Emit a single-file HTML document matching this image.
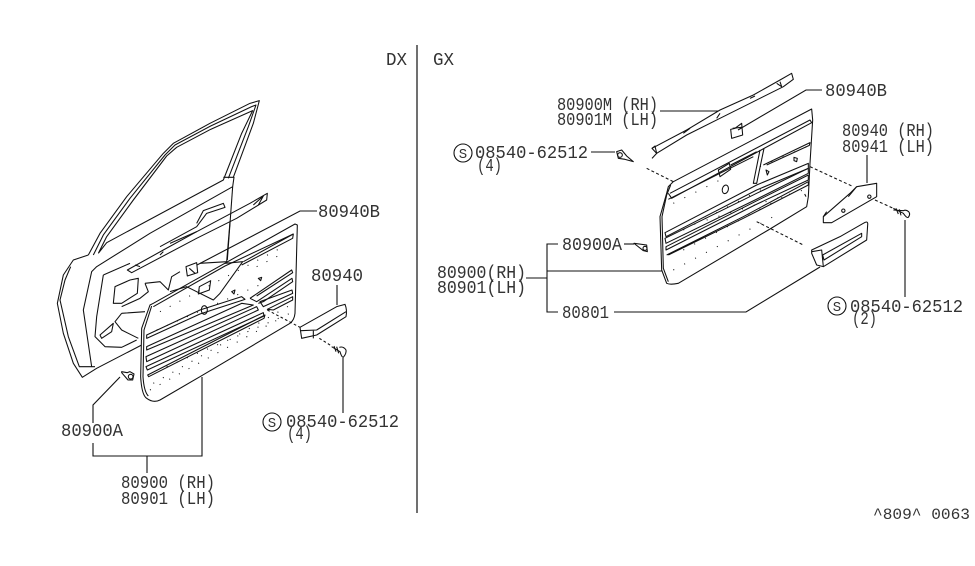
<!DOCTYPE html>
<html><head><meta charset="utf-8"><style>
html,body{margin:0;padding:0;background:#fff}
svg{display:block}
text{font-family:"Liberation Mono","DejaVu Sans Mono",monospace;font-size:18.5px;fill:#333;stroke:none}
</style></head><body>
<svg width="975" height="566" viewBox="0 0 975 566" xmlns="http://www.w3.org/2000/svg">
<rect width="975" height="566" fill="#fff"/>
<line x1="417" y1="45" x2="417" y2="513" stroke="#111" stroke-width="1.2"/>

<!-- DX door, in zoom coords -->
<g transform="translate(50 90) scale(.33333)">
<g stroke-width="3.2" fill="none" stroke="#111" stroke-linejoin="round">
<path d="M115 495L150 430L230 320L340 190L370 160L480 100L600 40L628 32L610 100L550 262"/>
<path d="M130 495L160 435L240 325L345 195L375 165L482 108L605 50L618 45L595 110L535 265"/>
<path d="M145 490L170 440L250 330L350 198L380 172L482 118L608 62L575 130L520 270L170 458L145 490"/>
<path d="M115 495L70 510L40 555L22 640L40 730L70 820L97 862L140 835L275 765"/>
<path d="M62 530L45 570L30 630L55 740L88 830L135 830"/>
<path d="M520 262L552 262L548 290L300 430L140 530L125 545L100 660L125 830"/>
<path d="M160 555L140 680L135 740L165 770L215 772L260 750"/>
<path d="M160 555L240 520"/>
<path d="M548 290L532 510"/>
<path d="M540 395L530 515L450 520"/>
<path d="M232 540L340 480L440 425L600 340L652 310L650 330L560 385L440 445L245 548Z"/>
<path d="M360 460L440 425M610 345L640 318L625 345"/>
<path d="M255 525L270 530M340 485L330 495"/>
<path d="M195 590L240 570L265 565L262 610L215 640L190 640Z"/>
<path d="M440 400L460 362L520 340L525 352L470 370L440 410L330 470"/>
<path d="M285 580L330 575L345 590L355 600L365 560L390 545M285 580L295 605L270 625L215 650"/>
<path d="M408 530L440 518L443 548L412 558Z M418 535L435 550"/>
<path d="M215 670L285 665M215 670L195 695L215 720L265 745"/>
<path d="M150 735L190 700L185 725L155 745Z"/>
</g>
<!-- panel -->
<g stroke-width="3.2" fill="none" stroke="#111" stroke-linejoin="round">
<path d="M300 645L275 715L272 860Q275 915 290 925Q310 940 330 930L450 860L720 700Q733 690 735 670L742 405L735 402L310 640Z" fill="#fff"/>
<path d="M305 648L282 720L279 860Q282 905 295 918"/>
<path d="M310 650L525 528L730 432M525 520"/>
<path d="M525 520L578 515L510 610L490 630L410 590L360 605"/>
<path d="M580 515L730 432L728 445L575 525"/>
<path d="M448 590L482 572L478 600L445 612Z"/>
<path d="M290 735L450 660L575 620L585 628L450 672L290 745Z"/>
<path d="M290 770L575 640L610 645L290 780Z"/>
<path d="M288 800L620 650L625 660L290 815Z"/>
<path d="M288 830L640 668L642 678L292 840Z"/>
<path d="M293 855L645 675L642 685L296 860Z"/>
<path d="M600 625L725 540L728 548L620 618M600 625L620 635L726 565L728 575L640 635L625 640"/>
<path d="M630 635L726 600L728 610L640 650Z"/>
<path d="M652 658L728 620L728 630L670 660Z"/>
<ellipse cx="463" cy="660" rx="9" ry="13"/>
<path d="M545 605L555 600L552 612ZM625 565L635 562L632 572Z"/>
</g>
<g stroke="#111" stroke-width="3.2" stroke-dasharray="3 30" fill="none">
<path d="M330 665L700 470"/><path d="M320 720L640 580"/><path d="M310 880L730 640"/><path d="M350 830L720 670"/><path d="M620 530L700 490"/><path d="M300 900L700 680"/>
</g>
<!-- armrest -->
<g fill="none" stroke="#111" stroke-width="3.2" stroke-linejoin="round">
<path d="M750 712L860 650L885 643Q892 660 888 680L800 735L755 745Z" fill="#fff"/>
<path d="M752 722L800 720L888 665M790 722L790 745"/>
<path d="M652 660L750 712M808 745L845 768" stroke-dasharray="8 7"/>
<path d="M845 770L870 785Q875 802 880 802Q890 790 888 780Q880 768 868 772"/>
<path d="M852 768L858 785M860 770L866 790"/>
<path d="M215 845L232 848L240 845L252 852L248 870L234 870L215 848Z"/>
<circle cx="242" cy="860" r="7"/>
</g>
</g>

<!-- DX connectors -->
<g fill="none" stroke="#111" stroke-width="1.1">
<polyline points="317,211 300,211 197,265"/>
<line x1="337" y1="285" x2="337" y2="305"/>
<line x1="343" y1="358" x2="343" y2="413"/>
<polyline points="120,377 93,405 93,423"/>
<polyline points="93,443 93,456 202,456 202,377"/>
<line x1="147" y1="456" x2="147" y2="473"/>
<circle cx="272" cy="422" r="9"/>
<circle cx="463" cy="153" r="9"/>
<circle cx="837" cy="306" r="9"/>
</g>

<!-- GX, in zoom2 coords -->
<g transform="translate(640 70) scale(.33333)" fill="none" stroke="#111" stroke-width="3.2" stroke-linejoin="round">
<path d="M36 235L140 180L240 120L340 75L420 30L455 10L460 28L430 50L340 95L240 145L140 195L50 250Z"/>
<path d="M36 235L45 228L50 250L36 265"/><path d="M410 40L425 50L420 35"/>
<path d="M130 190L150 175M240 130L230 145M330 85L345 78"/>
<path d="M85 350L100 335L515 117L518 150L510 280L505 380L500 410L385 480L115 640Q90 645 80 640L65 600L60 440L80 370Z"/>
<path d="M92 345L80 375L66 440L70 595L85 635"/>
<path d="M85 370L95 385L515 158L510 150L90 370"/>
<path d="M85 388L240 310L340 260"/>
<path d="M235 300L268 280L272 298L240 320Z"/>
<path d="M272 285L350 245"/>
<path d="M360 240L340 340L350 340L372 235"/>
<path d="M370 285L510 218L508 226L380 285"/>
<ellipse cx="256" cy="358" rx="9" ry="13" transform="rotate(15 256 358)"/>
<path d="M75 488L350 345L505 280L505 295L350 360L78 500Z"/>
<path d="M75 505L350 370L505 295L505 310L345 390L78 520Z"/>
<path d="M78 530L345 395L505 315L505 330L345 405L78 540Z"/>
<path d="M80 555L310 440L505 335L505 345L310 445L85 555"/>
<path d="M285 175L305 160L308 195L275 205L272 178Z"/>
<path d="M278 175L305 172"/>
<path d="M462 262L472 265L470 275L462 272ZM378 300L387 305L382 315ZM494 372L498 380"/>
<g stroke-dasharray="3 34"><path d="M100 400L240 330"/><path d="M100 600L400 440"/><path d="M130 540L450 370"/><path d="M360 290L500 230"/><path d="M200 450L490 360"/><path d="M130 480L380 350"/></g>
<path d="M20 295L100 335M510 290L640 350M705 390L760 415M350 455L490 525" stroke-dasharray="9 7"/>
<path d="M550 440L630 370L650 350L710 340L710 380L575 458L550 458Z"/>
<path d="M625 380L650 350M560 425L550 440"/>
<circle cx="610" cy="422" r="5"/><circle cx="688" cy="380" r="5"/>
<path d="M515 540L600 500L670 460Q685 450 683 465L680 510L550 590L530 585L515 550Z"/>
<path d="M515 545L545 540L550 590M548 555L665 490L665 500L552 570Z"/>
<path d="M760 415L790 430Q800 445 805 442Q812 432 806 425Q798 418 790 422L760 420"/>
<path d="M768 415L775 432M778 418L783 436"/>
</g>
<g transform="translate(430 80) scale(.33333)" fill="none" stroke="#111" stroke-width="3.2" stroke-linejoin="round">
<path d="M560 215L575 210L590 228L610 245L585 238L565 235Z"/>
<circle cx="570" cy="225" r="7"/>
<path d="M612 490L650 495L652 515L640 512Z"/>
<circle cx="645" cy="505" r="6"/>
</g>

<!-- GX connectors -->
<g fill="none" stroke="#111" stroke-width="1.1">
<line x1="660" y1="111" x2="718" y2="111"/>
<polyline points="822,90 806,90 738,130"/>
<line x1="591" y1="152" x2="615" y2="152"/>
<line x1="624" y1="244" x2="634" y2="244"/>
<polyline points="558,244 547,244 547,312 558,312"/>
<line x1="547" y1="271" x2="662" y2="271"/>
<line x1="526" y1="278" x2="547" y2="278"/>
<polyline points="614,312 746,312 820,267"/>
<line x1="867" y1="155" x2="867" y2="183"/>
<line x1="905" y1="220" x2="905" y2="297"/>
</g>

<!-- labels -->
<text x="272" y="427" text-anchor="middle" style="font-size:14px">S</text>
<text x="463" y="158" text-anchor="middle" style="font-size:14px">S</text>
<text x="837" y="311" text-anchor="middle" style="font-size:14px">S</text>
<text x="386" y="65" textLength="21" lengthAdjust="spacingAndGlyphs">DX</text>
<text x="433" y="65" textLength="21" lengthAdjust="spacingAndGlyphs">GX</text>
<text x="318" y="217" textLength="62" lengthAdjust="spacingAndGlyphs">80940B</text>
<text x="311" y="281" textLength="52" lengthAdjust="spacingAndGlyphs">80940</text>
<text x="61" y="436" textLength="62" lengthAdjust="spacingAndGlyphs">80900A</text>
<text x="121" y="488" textLength="94" lengthAdjust="spacingAndGlyphs">80900 (RH)</text>
<text x="121" y="504" textLength="94" lengthAdjust="spacingAndGlyphs">80901 (LH)</text>
<text x="286" y="427" textLength="113" lengthAdjust="spacingAndGlyphs">08540-62512</text>
<text x="287" y="439" textLength="25" lengthAdjust="spacingAndGlyphs">(4)</text>
<text x="557" y="110" textLength="101" lengthAdjust="spacingAndGlyphs">80900M (RH)</text>
<text x="557" y="125" textLength="101" lengthAdjust="spacingAndGlyphs">80901M (LH)</text>
<text x="825" y="96" textLength="62" lengthAdjust="spacingAndGlyphs">80940B</text>
<text x="842" y="136" textLength="92" lengthAdjust="spacingAndGlyphs">80940 (RH)</text>
<text x="842" y="152" textLength="92" lengthAdjust="spacingAndGlyphs">80941 (LH)</text>
<text x="475" y="158" textLength="113" lengthAdjust="spacingAndGlyphs">08540-62512</text>
<text x="477" y="171" textLength="25" lengthAdjust="spacingAndGlyphs">(4)</text>
<text x="562" y="250" textLength="60" lengthAdjust="spacingAndGlyphs">80900A</text>
<text x="437" y="278" textLength="89" lengthAdjust="spacingAndGlyphs">80900(RH)</text>
<text x="437" y="293" textLength="89" lengthAdjust="spacingAndGlyphs">80901(LH)</text>
<text x="562" y="318" textLength="47" lengthAdjust="spacingAndGlyphs">80801</text>
<text x="850" y="312" textLength="113" lengthAdjust="spacingAndGlyphs">08540-62512</text>
<text x="852" y="324" textLength="25" lengthAdjust="spacingAndGlyphs">(2)</text>
<text x="873" y="519" textLength="97" lengthAdjust="spacingAndGlyphs" style="font-size:16px">^809^ 0063</text>
</svg>
</body></html>
